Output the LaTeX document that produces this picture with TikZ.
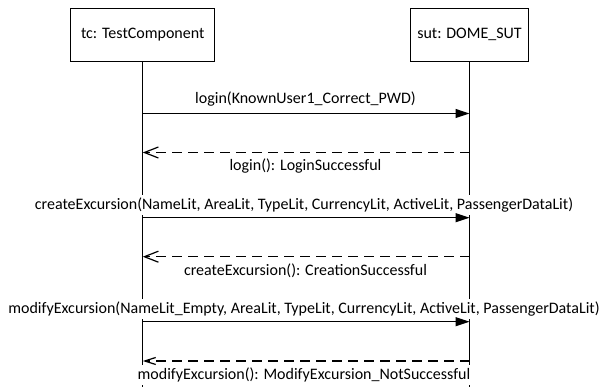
\documentclass[tikz,border=0pt]{standalone}
\usepackage{fontspec}
\setmainfont{Carlito}
\usetikzlibrary{arrows.meta}
\tikzset{
  lifebox/.style={draw, line width=1.2pt, minimum height=53pt, inner sep=0pt},
  lbl/.style={font=\fontsize{16}{19}\selectfont, inner sep=0pt},
  msglbl/.style={lbl, fill=white, inner xsep=2pt, inner ysep=3pt},
  lifeline/.style={line width=1.2pt},
  callmsg/.style={line width=1.2pt, -{Triangle[length=14pt,width=9pt]}},
  replymsg/.style={line width=1.2pt, dash pattern=on 10pt off 6pt, -{Straight Barb[length=14pt,width=11pt,line width=1.2pt]}},
  replysmall/.style={line width=1.2pt, dash pattern=on 10pt off 6pt, -{Straight Barb[length=11pt,width=7pt,line width=1.2pt]}}
}
\begin{document}
\begin{tikzpicture}[x=1pt,y=-1pt]
\useasboundingbox (0,0) rectangle (603,387);
% participants
\node[lifebox, minimum width=144pt, lbl] (tc) at (142.75,34.75) {tc: TestComponent};
\node[lifebox, minimum width=118pt, lbl] (sut) at (469.5,34.75) {sut: DOME\_SUT};
\coordinate (tcEnd) at (142.75,387);
\coordinate (sutEnd) at (469.5,387);
\draw[lifeline] (tc.south) -- (tcEnd);
\draw[lifeline] (sut.south) -- (sutEnd);
% message anchors on the lifelines
\coordinate (a1) at (142.75,113.5); \coordinate (b1) at (469.5,113.5);
\coordinate (a2) at (142.75,152.5); \coordinate (b2) at (469.5,152.5);
\coordinate (a3) at (142.75,217.7); \coordinate (b3) at (469.5,217.7);
\coordinate (a4) at (142.75,256.7); \coordinate (b4) at (469.5,256.7);
\coordinate (a5) at (142.75,321.7); \coordinate (b5) at (469.5,321.7);
\coordinate (a6) at (142.75,361);   \coordinate (b6) at (469.5,361);
% label base points
\coordinate (p1) at (305.5,104);
\coordinate (q1) at (305.5,171);
\coordinate (p2) at (304,209.5);
\coordinate (q2) at (305.5,275.5);
\coordinate (p3) at (304,313.5);
\coordinate (q3) at (304,379.5);
% labels
\node[msglbl, anchor=base] (m1) at (p1) {login(KnownUser1\_Correct\_PWD)};
\node[msglbl, anchor=base] (r1) at (q1) {login(): LoginSuccessful};
\node[msglbl, anchor=base] (m2) at (p2) {createExcursion(NameLit, AreaLit, TypeLit, CurrencyLit, ActiveLit, PassengerDataLit)};
\node[msglbl, anchor=base] (r2) at (q2) {createExcursion(): CreationSuccessful};
\node[msglbl, anchor=base] (m3) at (p3) {modifyExcursion(NameLit\_Empty, AreaLit, TypeLit, CurrencyLit, ActiveLit, PassengerDataLit)};
\node[msglbl, anchor=base] (r3) at (q3) {modifyExcursion(): ModifyExcursion\_NotSuccessful};
% messages
\draw[callmsg] (a1) -- (b1);
\draw[replymsg] (b2) -- (a2);
\draw[callmsg] (a3) -- (b3);
\draw[replymsg] (b4) -- (a4);
\draw[callmsg] (a5) -- (b5);
\draw[replysmall] (b6) -- (a6);
\end{tikzpicture}
\end{document}
